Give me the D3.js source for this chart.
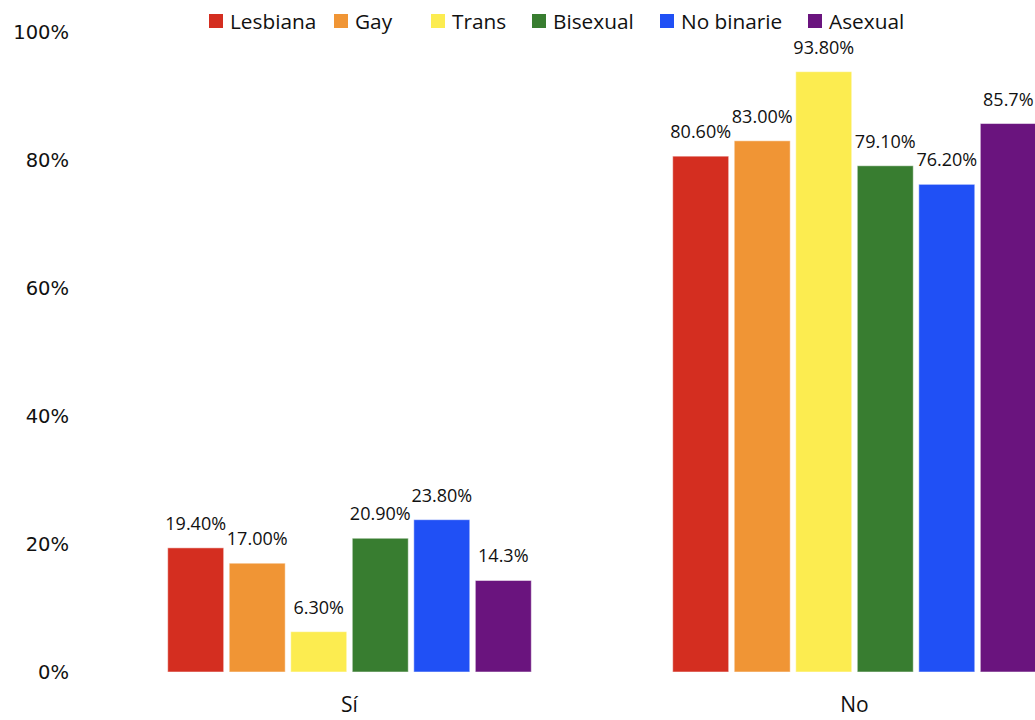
<!DOCTYPE html>
<html>
<head>
<meta charset="utf-8">
<script src="https://cdn.jsdelivr.net/npm/d3@7"></script>
<style>
	body { margin: 0; background: #fff; }
	text { font-family: "Open Sans", sans-serif; fill: #111; }
</style>
</head>
<body>
<svg id="chart"></svg>

<script>
	// data
	let groups = ["Sí", "No"]
	let categories = ["Lesbiana", "Gay", "Trans", "Bisexual", "No binarie", "Asexual"]
	let siValues = [19.4, 17.0, 6.3, 20.9, 23.8, 14.3]
	let noValues = [80.6, 83.0, 93.8, 79.1, 76.2, 85.7]
	let siLabels = ["19.40%", "17.00%", "6.30%", "20.90%", "23.80%", "14.3%"]
	let noLabels = ["80.60%", "83.00%", "93.80%", "79.10%", "76.20%", "85.7%"]
	let colours = ["#d42e20", "#f09535", "#fcec50", "#387d30", "#2050f5", "#6a147e"]
	let yTicks = [0, 20, 40, 60, 80, 100]

	let width = 1035
	let height = 720

	let chart = d3.select("#chart")
		.attr("width", width)
		.attr("height", height)

	let rows = [
		{ group: "Sí", values: siValues, labels: siLabels },
		{ group: "No", values: noValues, labels: noLabels }
	]

	let yScale = d3.scaleLinear()
		.domain([0, 100])
		.range([672, 32])

	// outer band runs past the right edge, the original is cropped there
	let x0 = d3.scaleBand()
		.domain(groups)
		.range([97, 1107])
		.paddingInner(0.28)
		.paddingOuter(0.14)

	let x1 = d3.scaleBand()
		.domain(categories)
		.range([0, x0.bandwidth()])
		.paddingInner(0.09)

	let colour = d3.scaleOrdinal().domain(categories).range(colours)

	// y axis, no line and no ticks, just labels
	let yAxis = d3.axisLeft(yScale)
		.tickValues(yTicks)
		.tickFormat(function(d){ return d + "%" })
		.tickSize(0)
		.tickPadding(0)

	let yAxisGlyph = chart.append("g")
		.attr("transform", "translate(69,0)")
		.call(yAxis)
	yAxisGlyph.select(".domain").remove()
	yAxisGlyph.selectAll("text")
		.style("font-family", "'DejaVu Sans', sans-serif")
		.style("font-size", "19.5px")
		.attr("fill", "#111")

	// x axis labels
	let xAxis = d3.axisBottom(x0).tickSize(0).tickPadding(0)
	let xAxisGlyph = chart.append("g")
		.attr("transform", "translate(0,697)")
		.call(xAxis)
	xAxisGlyph.select(".domain").remove()
	xAxisGlyph.selectAll("text")
		.style("font-family", "'Open Sans', sans-serif")
		.style("font-size", "21px")
		.attr("fill", "#111")

	// bars
	let groupG = chart.selectAll("g.group")
		.data(rows)
		.enter().append("g")
		.classed("group", true)
		.attr("transform", function(d){ return "translate(" + x0(d.group) + ",0)" })

	let cells = groupG.selectAll("g.cell")
		.data(function(d){
			return categories.map(function(c, i){
				return { cat: c, value: d.values[i], label: d.labels[i] }
			})
		})
		.enter().append("g")
		.classed("cell", true)

	cells.append("rect")
		.attr("x", function(d){ return x1(d.cat) })
		.attr("y", function(d){ return yScale(d.value) })
		.attr("width", x1.bandwidth())
		.attr("height", function(d){ return yScale(0) - yScale(d.value) })
		.attr("fill", function(d){ return colour(d.cat) })
		.attr("stroke", "#ffffff")
		.attr("stroke-opacity", 0.5)
		.attr("stroke-width", 1)

	cells.append("text")
		.attr("x", function(d){ return x1(d.cat) + x1.bandwidth() / 2 })
		.attr("y", function(d){ return yScale(d.value) - 18 })
		.attr("text-anchor", "middle")
		.style("font-size", "18px")
		.text(function(d){ return d.label })

	// legend
	let legendX = [209, 334, 431, 532, 660, 808]
	let legend = chart.selectAll("g.legend")
		.data(categories)
		.enter().append("g")
		.classed("legend", true)
		.attr("transform", function(d, i){ return "translate(" + legendX[i] + ",0)" })

	legend.append("rect")
		.attr("x", 0)
		.attr("y", 14)
		.attr("width", 14)
		.attr("height", 14)
		.attr("fill", function(d){ return colour(d) })

	legend.append("text")
		.attr("x", 21)
		.attr("y", 29)
		.style("font-size", "20.8px")
		.text(function(d){ return d })
</script>
</body>
</html>
